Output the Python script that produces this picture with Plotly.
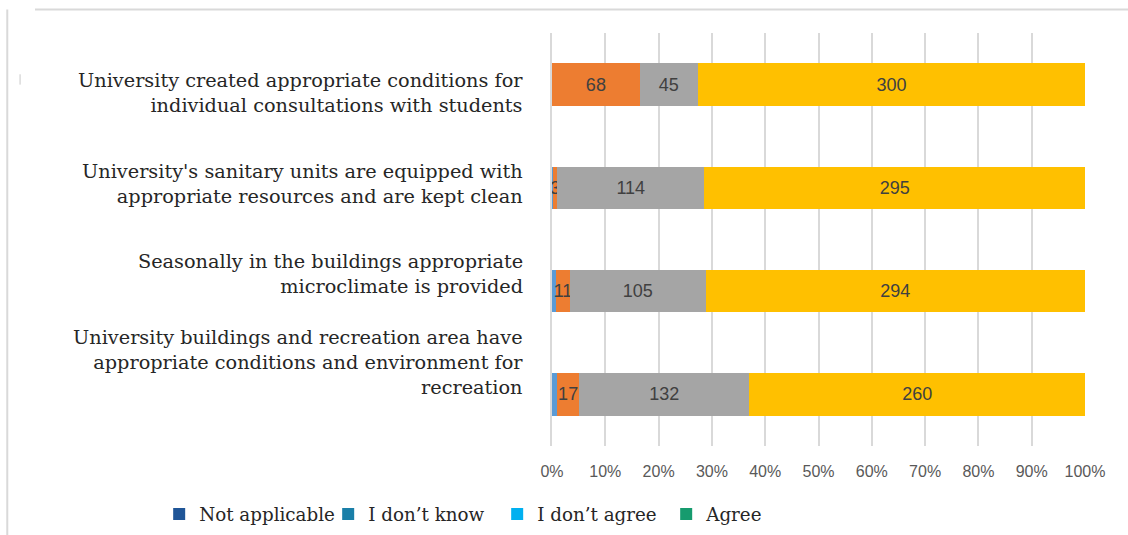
import plotly.graph_objects as go

# Survey statements (top to bottom)
categories = [
    "University created appropriate conditions for<br>individual consultations with students",
    "University's sanitary units are equipped with<br>appropriate resources and are kept clean",
    "Seasonally in the buildings appropriate<br>microclimate is provided",
    "University buildings and recreation area have<br>appropriate conditions and environment for<br>recreation",
]
# vertical nudge of each statement label relative to its bar (px, up is positive)
label_shift = [-8, 4, 17, 32]

# Response counts per statement
blue_vals = [0, 1, 3, 4]
orange_vals = [68, 3, 11, 17]
gray_vals = [45, 114, 105, 132]
yellow_vals = [300, 295, 294, 260]

# Legend-only answer categories
legend_names = ["Not applicable", "I don\u2019t know", "I don\u2019t agree", "Agree"]
legend_colors = ["#1F5597", "#1A7FA8", "#00B0F0", "#169B6E"]

label_font = dict(family="Liberation Sans, Arial, sans-serif", size=18, color="#404040")
serif = "DejaVu Serif, serif"

fig = go.Figure()

for name, color in zip(legend_names, legend_colors):
    fig.add_trace(go.Bar(
        y=categories, x=[0] * len(categories), orientation="h",
        name=name, marker=dict(color=color, line=dict(width=0)),
        showlegend=True, hoverinfo="skip",
    ))

segments = [
    (blue_vals, "#5B9BD5", False),
    (orange_vals, "#ED7D31", True),
    (gray_vals, "#A5A5A5", True),
    (yellow_vals, "#FFC000", True),
]
for vals, color, labelled in segments:
    fig.add_trace(go.Bar(
        y=categories, x=vals, orientation="h",
        marker=dict(color=color, line=dict(width=0)),
        text=[str(v) for v in vals] if labelled else None,
        texttemplate="%{text}" if labelled else None,
        textposition="inside" if labelled else "none",
        insidetextanchor="middle",
        constraintext="none",
        textangle=0,
        textfont=label_font,
        showlegend=False,
    ))

# statement labels to the left of the bars
for cat, shift in zip(categories, label_shift):
    fig.add_annotation(
        x=0, xref="paper", xanchor="right", xshift=-27,
        y=cat, yref="y", yanchor="middle", yshift=shift,
        text=cat, align="right", showarrow=False,
        font=dict(family=serif, size=19.3, color="#262626"),
    )

fig.update_layout(
    barmode="stack",
    barnorm="percent",
    bargap=0.59,
    width=1128, height=535,
    margin=dict(l=552, r=43, t=33, b=89, autoexpand=False),
    paper_bgcolor="white",
    plot_bgcolor="white",
    xaxis=dict(
        range=[0, 100], dtick=10, ticksuffix="%",
        showgrid=True, gridcolor="#D9D9D9", gridwidth=1.5,
        zeroline=False, showline=False,
        tickfont=dict(family="Liberation Sans, Arial, sans-serif", size=16, color="#595959"),
        ticklabelstandoff=14,
    ),
    yaxis=dict(
        range=[len(categories) - 0.5, -0.5],
        showgrid=False, zeroline=False, showticklabels=False,
        showline=True, linecolor="#D9D9D9", linewidth=1.5,
    ),
    legend=dict(
        orientation="h",
        xref="paper", yref="paper",
        x=-0.737, y=-0.165, xanchor="left", yanchor="middle",
        font=dict(family=serif, size=18.3, color="#262626"),
        itemwidth=30, traceorder="normal",
        entrywidth=124, entrywidthmode="pixels",
    ),
    shapes=[
        # chart frame (top and left edges)
        dict(type="line", xref="paper", yref="paper",
             x0=-0.97, x1=1.1, y0=1.057, y1=1.057,
             line=dict(color="#D9D9D9", width=2)),
        dict(type="line", xref="paper", yref="paper",
             x0=-1.022, x1=-1.022, y0=1.057, y1=-0.3,
             line=dict(color="#D9D9D9", width=2)),
        # small tick mark near the first label
        dict(type="line", xref="paper", yref="paper",
             x0=-0.998, x1=-0.998, y0=0.9, y1=0.875,
             line=dict(color="#C8C8C8", width=1)),
    ],
)

fig.write_html("out.html")
